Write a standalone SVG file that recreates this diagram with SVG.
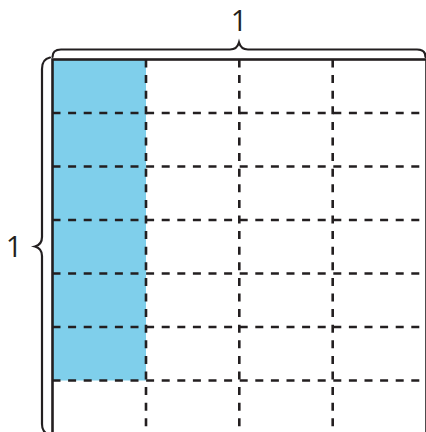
<svg xmlns="http://www.w3.org/2000/svg" width="426" height="432" viewBox="0 0 426 432">
<style>
.dash{stroke:#231f20;stroke-width:2.6;stroke-dasharray:8 7.6;fill:none}
.solid{stroke:#231f20;stroke-width:2.6;fill:none}
.brace{stroke:#231f20;stroke-width:2.2;fill:none;stroke-linecap:round}
.lbl{font-family:"Open Sans","Liberation Sans",sans-serif;font-size:29px;fill:#231f20;text-anchor:middle}
</style>
<rect width="426" height="432" fill="#ffffff"/>
<g id="shaded">
<rect x="52.5" y="59.5" width="93.5" height="321" fill="#7fcfeb"/>
</g>
<g id="grid">
<line class="dash" x1="52.5" y1="113" x2="426.5" y2="113"/>
<line class="dash" x1="52.5" y1="166.5" x2="426.5" y2="166.5"/>
<line class="dash" x1="52.5" y1="220" x2="426.5" y2="220"/>
<line class="dash" x1="52.5" y1="273.5" x2="426.5" y2="273.5"/>
<line class="dash" x1="52.5" y1="327" x2="426.5" y2="327"/>
<line class="dash" x1="52.5" y1="380.5" x2="426.5" y2="380.5"/>
<line class="dash" x1="146" y1="59.5" x2="146" y2="434"/>
<line class="dash" x1="239.3" y1="59.5" x2="239.3" y2="434"/>
<line class="dash" x1="332.7" y1="59.5" x2="332.7" y2="434"/>
<rect class="solid" x="52.5" y="59.5" width="374" height="374.5"/>
</g>
<g id="top-brace">
<path class="brace" d="M52.5,57 Q52.5,49.5 61,49.5 L230,49.5 Q237,49.5 239,42.5 Q241,49.5 248,49.5 L417,49.5 Q425.5,49.5 425.5,57"/>
<text class="lbl" x="239" y="31">1</text>
</g>
<g id="left-brace">
<path class="brace" d="M50,57.5 Q42,59 42,69 L42,237 Q42,244.5 35,246.5 Q42,248.5 42,256 L42,424 Q42,433 50,435"/>
<text class="lbl" x="14" y="257">1</text>
</g>
</svg>
